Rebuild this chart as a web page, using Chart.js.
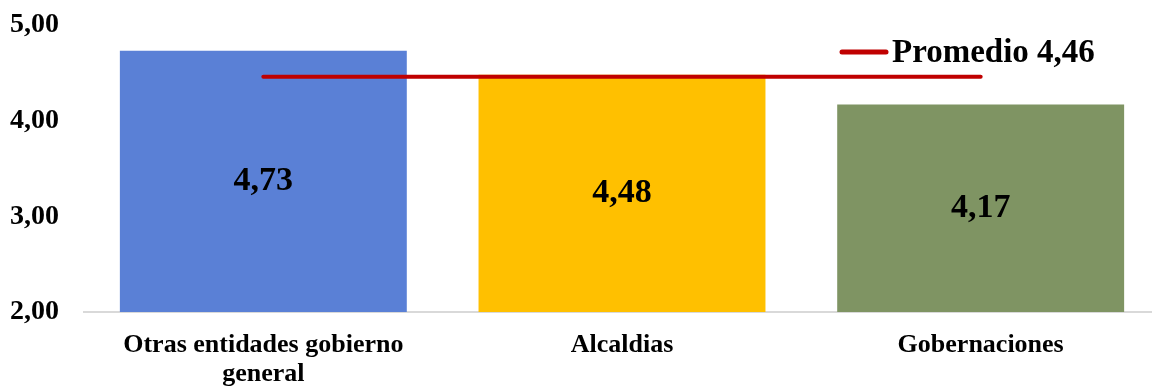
<!DOCTYPE html>
<html>
<head>
<meta charset="utf-8">
<script src="https://cdn.jsdelivr.net/npm/chart.js@4"></script>
<style>
  html, body { margin: 0; padding: 0; background: #fff; overflow: hidden; }
  #wrap { width: 1160px; height: 390px; }
</style>
</head>
<body>
<div id="wrap"><canvas id="chart"></canvas></div>
<script>
// ---- Data ----
const categories = [["Otras entidades gobierno", "general"], "Alcaldias", "Gobernaciones"];
const values = [4.73, 4.48, 4.17];
const average = [4.46, 4.46, 4.46];
const averageLabel = "Promedio 4,46";
const barColors = ["#5A80D6", "#FFC000", "#7F9463"];

const FONT = "'Liberation Serif', 'Times New Roman', serif";

function fmt(v) {
  return v.toFixed(2).replace(".", ",");
}

// value labels centred in each bar (base clipped to the axis, y starts at 2)
const barLabels = {
  id: "barLabels",
  afterDatasetsDraw(chart) {
    const { ctx, chartArea } = chart;
    const meta = chart.getDatasetMeta(0);
    ctx.save();
    ctx.font = "bold 34px " + FONT;
    ctx.fillStyle = "#000";
    ctx.textAlign = "center";
    ctx.textBaseline = "middle";
    meta.data.forEach((bar, i) => {
      const base = Math.min(bar.base, chartArea.bottom);
      ctx.fillText(fmt(values[i]), bar.x, (bar.y + base) / 2);
    });
    ctx.restore();
  }
};

// legend for the average line, top right
const lineLegend = {
  id: "lineLegend",
  afterDraw(chart) {
    const { ctx } = chart;
    const y = 52;
    ctx.save();
    ctx.strokeStyle = "#C00000";
    ctx.lineWidth = 5;
    ctx.lineCap = "round";
    ctx.beginPath();
    ctx.moveTo(842, y);
    ctx.lineTo(886, y);
    ctx.stroke();
    ctx.font = "bold 33px " + FONT;
    ctx.fillStyle = "#000";
    ctx.textAlign = "left";
    ctx.textBaseline = "middle";
    ctx.fillText(chart.data.datasets[1].label, 892, y + 1);
    ctx.restore();
  }
};

const ctx = document.getElementById("chart").getContext("2d");

new Chart(ctx, {
  data: {
    labels: categories,
    datasets: [
      {
        type: "bar",
        label: "Valor",
        data: values,
        backgroundColor: barColors,
        categoryPercentage: 1,
        barPercentage: 0.8,
        order: 2
      },
      {
        type: "line",
        label: averageLabel,
        data: average,
        borderColor: "#C00000",
        borderWidth: 4,
        borderCapStyle: "round",
        pointRadius: 0,
        fill: false,
        order: 1
      }
    ]
  },
  options: {
    responsive: true,
    maintainAspectRatio: false,
    animation: false,
    layout: { padding: { top: 25, left: 0, right: 0, bottom: 0 } },
    plugins: {
      legend: { display: false },
      tooltip: { enabled: false }
    },
    scales: {
      x: {
        grid: { display: false },
        border: { display: true, color: "#D9D9D9", width: 2 },
        ticks: {
          color: "#000",
          padding: 11,
          maxRotation: 0,
          font: { family: FONT, size: 26, weight: "bold", lineHeight: 1.12 }
        },
        afterFit(scale) { scale.height = 78; }
      },
      y: {
        min: 2,
        max: 5,
        grid: { display: false, drawTicks: false },
        border: { display: false },
        ticks: {
          stepSize: 1,
          color: "#000",
          padding: 25,
          font: { family: FONT, size: 28, weight: "bold" },
          callback: (v) => fmt(v)
        },
        afterFit(scale) {
          scale.width = 84;
          scale.paddingTop = 0;
          scale.paddingBottom = 0;
        }
      }
    }
  },
  plugins: [barLabels, lineLegend]
});
</script>
</body>
</html>
